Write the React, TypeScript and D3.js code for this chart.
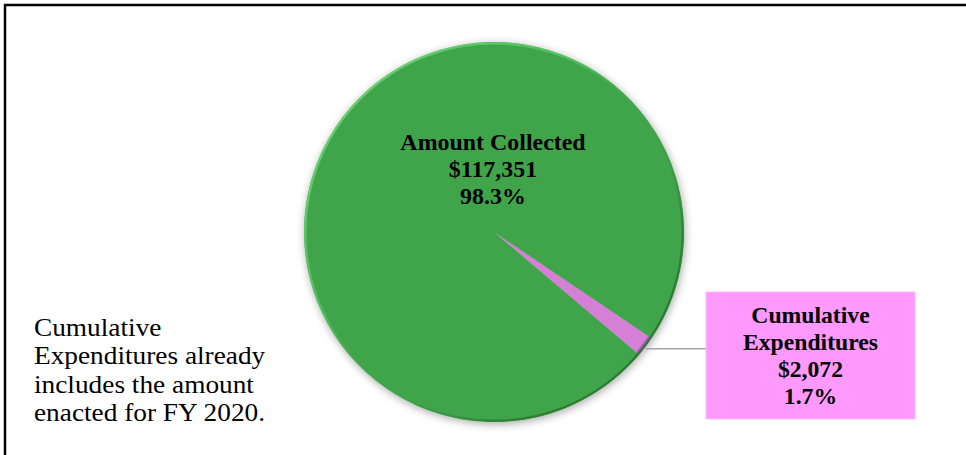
import React from "react";
import * as d3 from "d3";

const categories = ["Cumulative Expenditures", "Amount Collected"];
const values = [2072, 117351];
const labelLines = [["Cumulative", "Expenditures"], ["Amount Collected"]];
const colors = ["#D67FD6", "#41A44B"];
const noteLines = ["Cumulative", "Expenditures already", "includes the amount", "enacted for FY 2020."];

const W = 966;
const H = 455;

export default function App() {
  const cx = 494;
  const cy = 232;
  const r = 190;
  const total = d3.sum(values);
  const start = (124 * Math.PI) / 180;
  const pie = d3
    .pie<number>()
    .sort(null)
    .startAngle(start)
    .endAngle(start + 2 * Math.PI);
  const arcs = pie(values);
  const arc = d3.arc<d3.PieArcDatum<number>>().innerRadius(0).outerRadius(r);
  const rim = d3.arc<d3.PieArcDatum<number>>().innerRadius(r - 4).outerRadius(r);

  const fmtMoney = (v: number) => "$" + d3.format(",")(v);
  const fmtPct = (v: number) => ((v / total) * 100).toFixed(1) + "%";

  const small = arcs[0];
  const mid = (small.startAngle + small.endAngle) / 2;
  const ox = cx + r * Math.sin(mid);
  const oy = cy - r * Math.cos(mid) + 2;

  const boxX = 706;
  const boxY = 292;
  const boxW = 209;
  const boxH = 127;
  const boxCx = boxX + boxW / 2;

  const greenLines = [labelLines[1][0], fmtMoney(values[1]), fmtPct(values[1])];
  const pinkLines = [...labelLines[0], fmtMoney(values[0]), fmtPct(values[0])];

  return (
    <svg
      width={W}
      height={H}
      style={{ position: "absolute", left: 0, top: 0, background: "#fff" }}
      fontFamily="'Liberation Serif', 'Times New Roman', serif"
    >
      <defs>
        <filter id="shadow" x="-20%" y="-20%" width="140%" height="140%">
          <feDropShadow dx="1" dy="2" stdDeviation="4" floodColor="#000" floodOpacity="0.35" />
        </filter>
        <linearGradient id="rimGrad" x1="0" y1="0" x2="1" y2="1">
          <stop offset="0%" stopColor="#6FE07A" stopOpacity="1" />
          <stop offset="40%" stopColor="#5CCB66" stopOpacity="0.6" />
          <stop offset="55%" stopColor="#41A44B" stopOpacity="0" />
          <stop offset="75%" stopColor="#2C7A33" stopOpacity="0.8" />
          <stop offset="100%" stopColor="#276E2D" stopOpacity="1" />
        </linearGradient>
      </defs>

      <rect x={5} y={5} width={W + 20} height={H + 20} fill="none" stroke="#000" strokeWidth={2.5} />

      <g filter="url(#shadow)">
        {arcs.map((a, i) => (
          <path key={categories[i]} d={arc(a) || ""} transform={`translate(${cx},${cy})`} fill={colors[i]} />
        ))}
      </g>
      <path
        d={rim(arcs[0]) || ""}
        transform={`translate(${cx},${cy})`}
        fill="#A857A8"
        opacity={0.8}
      />
      <circle cx={cx} cy={cy} r={r - 1.2} fill="none" stroke="url(#rimGrad)" strokeWidth={2.4} />

      <line x1={ox} y1={oy} x2={boxX} y2={oy} stroke="#A6A6A6" strokeWidth={1.5} />

      <rect x={boxX} y={boxY} width={boxW} height={boxH} fill="#FF99FF" stroke="#FFB8FF" strokeWidth={1} />

      <g fontWeight="bold" fontSize={23} textAnchor="middle" fill="#000">
        <g transform={`translate(493,0) scale(1.04,1)`}>
          {greenLines.map((t, i) => (
            <text key={"g" + i} x={0} y={150.5 + i * 26.7}>
              {t}
            </text>
          ))}
        </g>
        <g transform={`translate(${boxCx},0) scale(1.03,1)`}>
          {pinkLines.map((t, i) => (
            <text key={"p" + i} x={0} y={323 + i * 27}>
              {t}
            </text>
          ))}
        </g>
      </g>

      <g fontSize={24.5} fill="#000" transform="translate(34,0) scale(1.115,1)">
        {noteLines.map((t, i) => (
          <text key={"n" + i} x={0} y={336 + i * 28.4}>
            {t}
          </text>
        ))}
      </g>
    </svg>
  );
}
